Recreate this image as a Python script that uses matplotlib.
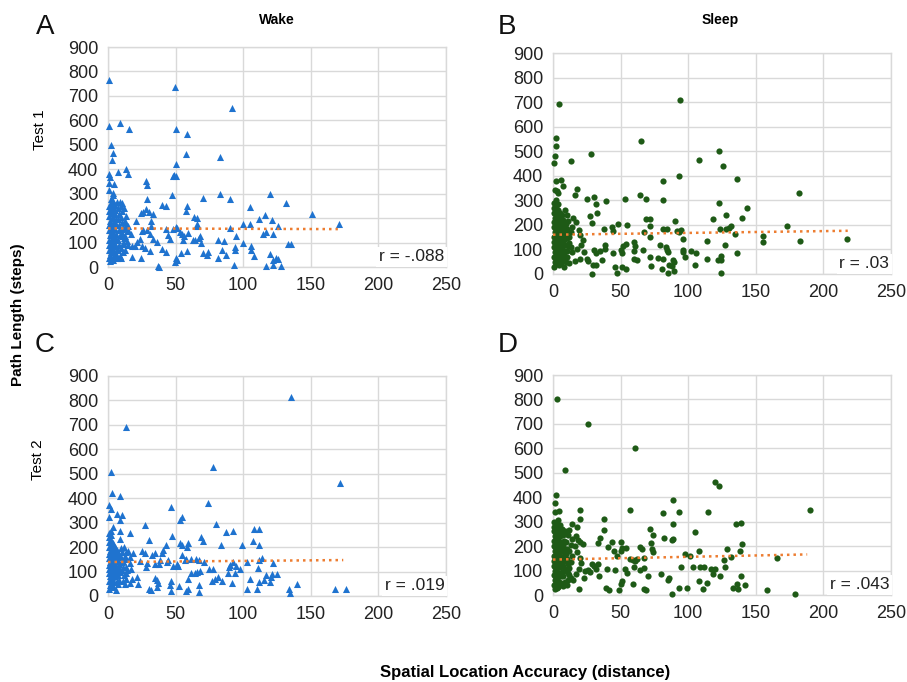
import numpy as np
import matplotlib
matplotlib.use("Agg")
import matplotlib.pyplot as plt

plt.rcParams['font.family'] = ['Liberation Sans', 'DejaVu Sans']

# ---------------- data (x = spatial location accuracy, y = path length) ----------------
wake_test1 = [
    (1, 764), (49.4, 736), (92, 650), (1, 577), (8.6, 589), (15.5, 563), (50, 565), (58.5, 544),
    (2, 498), (4, 466), (2.7, 439), (58, 461), (83, 449), (50, 421), (13, 401), (7.6, 390),
    (14.8, 382), (1, 380), (1.2, 370), (48, 371), (49, 376), (50.5, 371), (4.5, 338), (1, 344),
    (28, 350), (29, 336), (1, 316), (3.7, 303), (47, 293), (83, 297), (120, 297), (70, 282),
    (90, 277), (29, 278), (132, 262), (40, 255), (43, 248), (58.5, 251), (58, 230), (105, 247),
    (8.6, 265), (10.6, 262), (151, 215), (170.5, 177), (116, 211), (112, 196), (121, 192),
    (126, 166), (122, 134), (117, 142), (115, 136), (99.5, 177), (105, 177), (90, 161), (95, 125),
    (99.5, 98), (106, 87), (106, 71), (108, 46), (94, 82), (94, 68), (87.6, 49), (84, 71),
    (86, 106), (81, 112), (81.4, 38), (93.5, 7), (117, 3), (122, 8), (122, 30), (124, 38),
    (126, 33), (127.6, 3), (120, 55), (133, 93), (135.5, 93), (37, 3), (37.7, 0),
    (24.4, 221), (26, 224), (28, 237), (30.5, 224), (33.5, 218), (32, 187), (32, 169), (29, 150),
    (31, 136), (33, 115), (36, 104), (30.8, 64), (25.4, 85), (27.4, 78), (23.4, 115), (21.5, 104),
    (18, 85), (17.5, 40), (24.4, 37), (21, 187), (26, 150), (25, 147), (20, 87), (14.6, 166),
    (14.6, 150), (17, 136), (40, 74), (43, 60), (42.7, 155), (44.7, 131), (46, 115), (50, 164),
    (51, 158), (48, 155), (53, 142), (54.6, 136), (56, 125), (55.5, 112), (54, 57), (50, 37),
    (51, 30), (49.6, 22), (58.5, 65), (59.5, 139), (63.4, 205), (66, 199), (66, 175), (66, 166),
    (68, 128), (67, 120), (69, 98), (64, 109), (70, 57), (73, 50), (74, 60), (63, 112),
    (10.6, 155), (12.6, 160), (10, 125), (11.6, 95), (8.6, 44), (9.6, 37), (7, 38), (5.7, 55),
    (0.5, 250), (0.8, 230), (1, 210), (1.2, 190), (0.6, 170), (1, 150), (1.4, 130), (0.7, 110),
    (1.1, 90), (0.9, 70), (1.3, 50), (0.6, 35), (1.5, 25), (2, 280), (2.2, 260), (2.5, 240),
    (2.1, 220), (2.6, 200), (2.3, 180), (2.8, 160), (2.4, 140), (2.7, 120), (2.2, 100), (2.9, 80),
    (2.5, 60), (2.1, 40), (3.5, 295), (3.8, 270), (3.2, 245), (4, 225), (3.6, 205), (4.2, 185),
    (3.4, 165), (3.9, 145), (4.4, 125), (3.3, 105), (4.1, 85), (3.7, 65), (4.3, 45), (3.5, 30),
    (5, 255), (5.5, 235), (5.2, 215), (6, 195), (5.7, 175), (5.3, 155), (6.2, 135), (5.8, 115),
    (5.1, 95), (6.4, 75), (5.6, 48), (7, 265), (7.5, 240), (8, 215), (7.2, 195), (8.4, 170),
    (7.8, 150), (8.6, 130), (7.3, 110), (8.1, 90), (7.7, 68), (8.8, 40), (9.5, 250), (10, 228),
    (9.8, 205), (10.5, 185), (11, 162), (10.2, 140), (11.5, 118), (10.8, 98), (9.6, 78),
    (11.2, 60), (12, 240), (13, 210), (12.5, 190), (13.5, 170), (14, 148), (12.8, 128),
    (13.8, 105), (14.5, 88), (12.3, 70),
]

sleep_test1 = [
    (4.4, 691), (94, 707), (2, 552), (2.5, 522), (1.5, 482), (1, 453), (13, 459), (28, 487),
    (65, 541), (123, 500), (108, 466), (125.5, 440), (93.4, 398), (81.5, 378), (136, 386),
    (181.6, 331), (2.5, 380), (6, 383), (7.5, 359), (1.5, 344), (3, 339), (4, 328), (17.8, 347),
    (16, 320), (25, 304), (30.6, 314), (31.6, 285), (39, 298), (32.6, 249), (27.7, 237),
    (29, 209), (53, 304), (64, 321), (68.7, 304), (81, 300), (123, 291), (143.8, 268), (128, 239),
    (139.5, 229), (118, 225), (69, 222), (72, 222), (72, 197), (90, 215), (55, 198), (48, 203),
    (43.5, 190), (44.5, 176), (37.5, 182), (84, 182), (91.5, 175), (93, 173), (96, 144),
    (123.5, 182), (128, 182), (130, 187), (132, 194), (134.5, 163), (173.4, 194), (155.6, 155),
    (155, 130), (183, 133), (217.4, 141), (72, 152), (67, 171), (60, 130), (61, 114), (54, 122),
    (52, 114), (50, 98), (51, 84), (44.5, 84), (38.5, 119), (38.5, 100), (34.6, 95), (30, 98),
    (32, 84), (25, 60), (26, 52), (29.6, 38), (31.6, 35), (29, 0), (36.5, 57), (46, 30),
    (47.4, 3), (51.4, 27), (54.3, 19), (60, 92), (60, 62), (62, 57), (66.7, 98), (72, 68),
    (72.6, 33), (77.6, 65), (81, 62), (79, 117), (83.5, 111), (84, 98), (85, 89), (85.5, 35),
    (88, 33), (88.4, 57), (89.4, 50), (80.5, 19), (89.4, 11), (85, 5), (96, 98), (97.4, 68),
    (96, 89), (102, 92), (105.8, 84), (105.3, 35), (114, 60), (114, 133), (122, 57), (124, 73),
    (124.5, 57), (124.3, 3), (127, 117), (136, 87), (95, 179), (81.5, 182),
    (19, 180), (20, 160), (22, 140), (21, 118), (18, 100), (23, 90), (20, 62), (16, 52),
    (17, 210), (15, 230), (14, 190), (13, 170), (12, 150), (11.5, 125), (13, 108), (14, 88),
    (10, 70), (12, 45), (8, 30), (9, 260), (10, 240), (11, 215),
    (0.5, 290), (0.8, 270), (1, 250), (1.2, 230), (0.6, 210), (1, 190), (1.4, 170), (0.7, 150),
    (1.1, 130), (0.9, 110), (1.3, 90), (0.6, 70), (1.5, 50), (0.8, 30), (2, 300), (2.2, 275),
    (2.5, 245), (2.1, 222), (2.6, 200), (2.3, 182), (2.8, 160), (2.4, 140), (2.7, 120),
    (2.2, 100), (2.9, 80), (2.5, 60), (2.1, 40), (3.5, 285), (3.8, 262), (3.2, 238), (4, 218),
    (3.6, 198), (4.2, 178), (3.4, 158), (3.9, 138), (4.4, 118), (3.3, 98), (4.1, 78), (3.7, 58),
    (4.3, 38), (5, 250), (5.5, 228), (5.2, 208), (6, 188), (5.7, 168), (5.3, 148), (6.2, 128),
    (5.8, 108), (5.1, 88), (6.4, 68), (5.6, 45), (7, 240), (7.5, 220), (8, 200), (7.2, 178),
    (8.4, 158), (7.8, 138), (8.6, 118), (7.3, 98), (8.1, 78), (7.7, 55), (9.5, 205), (10, 185),
    (9.8, 165), (10.5, 145), (11, 112), (10.2, 95), (9.6, 50),
]

wake_test2 = [
    (135, 815), (13.3, 693), (2, 506), (78, 526), (171.5, 464), (3.2, 423), (8.6, 409),
    (74, 379), (46.6, 365), (0.7, 371), (2.2, 357), (0.7, 325), (6.7, 335), (10, 330),
    (54.5, 325), (53.5, 311), (8.6, 311), (27, 292), (79.7, 295), (108, 273), (112, 274),
    (87.6, 263), (92.5, 265), (1, 256), (2, 267), (3.7, 284), (9, 267), (9, 235), (16, 256),
    (47.6, 245), (69, 243), (70, 226), (107, 226), (30, 229), (99, 207), (112, 210),
    (83.6, 207), (53.6, 218), (55, 207), (59.5, 218), (58.5, 202), (43, 207), (41, 188),
    (40, 175), (35, 175), (32.8, 169), (25.4, 183), (27.4, 177), (18.5, 175), (16.5, 158),
    (55, 166), (56.6, 147), (57.5, 153), (61.5, 150), (65, 150), (67, 147), (70.8, 139),
    (51, 131), (52, 123), (48, 123), (44.7, 147), (43.7, 139), (38.7, 147), (38, 131), (35, 131),
    (28, 120), (29, 134), (35, 74), (36, 65), (37, 52), (36, 38), (30, 27), (32, 25),
    (46.6, 60), (45.6, 46), (46.6, 19), (52.5, 41), (58, 22), (59.5, 27), (59, 71), (61.5, 93),
    (64, 93), (65.5, 98), (68, 104), (67, 44), (67, 16), (74.8, 109), (78, 112), (77.2, 63),
    (79, 68), (81.7, 79), (84, 60), (88.6, 93), (91.6, 55), (89.6, 117), (90, 128), (92.5, 139),
    (95, 123), (94, 93), (98, 109), (103, 139), (103, 27), (105, 71), (110.3, 30), (111.8, 57),
    (112, 147), (114, 155), (111, 115), (115.7, 65), (117, 87), (119.7, 57), (120.7, 76),
    (121.7, 134), (121, 90), (125, 90), (134, 30), (134.5, 11), (140, 49), (168, 30), (176, 30),
    (21.5, 79), (22, 49), (16, 55), (17.5, 71), (13.6, 93), (13.6, 71), (12.6, 150), (11, 142),
    (24, 142),
    (0.5, 240), (0.8, 220), (1, 200), (1.2, 185), (0.6, 170), (1, 155), (1.4, 140), (0.7, 125),
    (1.1, 110), (0.9, 95), (1.3, 80), (0.6, 62), (1.5, 45), (0.8, 30), (2, 250), (2.2, 228),
    (2.5, 205), (2.1, 190), (2.6, 176), (2.3, 162), (2.8, 148), (2.4, 132), (2.7, 118),
    (2.2, 102), (2.9, 88), (2.5, 70), (2.1, 52), (2.6, 35), (3.5, 215), (3.8, 195), (3.2, 180),
    (4, 166), (3.6, 152), (4.2, 138), (3.4, 124), (3.9, 108), (4.4, 92), (3.3, 76), (4.1, 58),
    (3.7, 40), (5, 200), (5.5, 185), (5.2, 170), (6, 158), (5.7, 144), (5.3, 128), (6.2, 112),
    (5.8, 96), (5.1, 80), (6.4, 62), (5.6, 25), (7, 190), (7.5, 175), (8, 160), (7.2, 146),
    (8.4, 130), (7.8, 115), (8.6, 100), (7.3, 84), (8.1, 66), (7.7, 48), (9.5, 195), (10, 178),
    (9.8, 160), (10.5, 140), (11, 120), (10.2, 105), (11.5, 85), (10.8, 62), (12, 200),
    (13, 180), (12.5, 165), (13.5, 120), (14, 105), (12.8, 50), (15, 185), (16, 135), (17, 110),
]

sleep_test2 = [
    (3, 802), (26, 701), (61, 601), (9, 510), (120, 461), (123, 445), (190, 346), (2, 409),
    (1.5, 376), (1.5, 338), (4.4, 344), (19.8, 349), (57.3, 348), (89, 389), (93.4, 341),
    (81.5, 337), (115, 338), (37.6, 311), (19.8, 311), (135, 292), (139, 295), (88.5, 289),
    (14, 289), (17.8, 278), (12, 265), (38, 267), (104.7, 256), (71.6, 271), (74, 245), (82, 235),
    (88, 226), (89, 229), (34.6, 235), (33, 213), (18.8, 226), (19.8, 215), (22, 210),
    (50.4, 218), (43.5, 218), (41, 196), (45, 180), (47.4, 161), (50.4, 180), (51.4, 191),
    (54, 191), (64, 196), (66, 188), (72.6, 213), (73, 188), (74, 175), (67, 153), (61, 139),
    (62, 147), (57, 147), (59, 142), (60, 115), (64, 101), (67, 109), (53, 106), (55, 90),
    (45.5, 101), (40, 106), (33, 125), (34, 79), (39, 30), (41.5, 22), (49, 22), (50.4, 46),
    (51, 57), (59, 44), (67, 25), (68.7, 22), (70, 79), (80, 87), (85, 63), (86, 68), (93.4, 30),
    (99.3, 27), (88, 3), (95, 115), (98, 169), (101, 158), (103.3, 115), (108, 180),
    (108.7, 115), (111.6, 115), (108, 57), (111, 25), (113.7, 49), (117, 106), (118, 87),
    (119.6, 106), (123.5, 76), (126.5, 145), (127, 115), (129, 188), (132, 155), (133, 30),
    (136, 44), (137, 25), (138, 180), (139, 79), (140, 207), (141.8, 41), (158, 19),
    (165.5, 153), (179, 5), (19.3, 25), (23, 68), (25.7, 104), (27.7, 95), (23.7, 98), (29, 128),
    (30.6, 120), (32, 106),
    (17, 240), (16, 200), (18, 175), (20, 150), (21, 130), (19, 105), (17, 85), (15, 60),
    (14, 230), (13, 205), (12, 180), (14, 160), (13, 135), (12, 110), (11, 90), (13, 70),
    (10, 40), (9, 260), (11, 245),
    (0.5, 300), (0.8, 280), (1, 260), (1.2, 240), (0.6, 220), (1, 200), (1.4, 180), (0.7, 160),
    (1.1, 140), (0.9, 120), (1.3, 100), (0.6, 80), (1.5, 60), (0.8, 40), (1.2, 25), (2, 290),
    (2.2, 268), (2.5, 248), (2.1, 228), (2.6, 208), (2.3, 188), (2.8, 168), (2.4, 148),
    (2.7, 128), (2.2, 108), (2.9, 88), (2.5, 68), (2.1, 48), (2.6, 30), (3.5, 305), (3.8, 275),
    (3.2, 252), (4, 232), (3.6, 212), (4.2, 192), (3.4, 172), (3.9, 152), (4.4, 132), (3.3, 112),
    (4.1, 92), (3.7, 72), (4.3, 52), (3.5, 32), (5, 285), (5.5, 262), (5.2, 240), (6, 218),
    (5.7, 196), (5.3, 176), (6.2, 156), (5.8, 136), (5.1, 116), (6.4, 96), (5.6, 76), (6, 50),
    (7, 270), (7.5, 245), (8, 222), (7.2, 200), (8.4, 178), (7.8, 158), (8.6, 138), (7.3, 118),
    (8.1, 98), (7.7, 78), (8.8, 55), (7.5, 35), (9.5, 215), (10, 190), (9.8, 168), (10.5, 148),
    (11, 125), (10.2, 105), (11.5, 82), (10.8, 60),
]

# trend lines: (x_start, x_end, y_start, y_end)
trend_wake_test1 = (0, 170, 158, 155)
trend_sleep_test1 = (0, 218, 160, 176)
trend_wake_test2 = (0, 174, 139, 147)
trend_sleep_test2 = (0, 188, 145, 166)

r_labels = ["r = -.088", "r = .03", "r = .019", "r = .043"]
panel_letters = ["A", "B", "C", "D"]
col_titles = ["Wake", "Sleep"]
row_labels = ["Test 1", "Test 2"]
x_ticks = [0, 50, 100, 150, 200, 250]
y_ticks = [0, 100, 200, 300, 400, 500, 600, 700, 800, 900]

# ---------------- figure ----------------
W, H = 907, 682
fig = plt.figure(figsize=(W / 100, H / 100), dpi=100)

blue = "#1F73CF"
green = "#1E5A16"
orange = "#ED7D31"
grid_c = "#D9D9D9"

def px_rect(l, r, t, b):
    return [l / W, 1 - b / H, (r - l) / W, (b - t) / H]

rects = [px_rect(108, 446, 47, 267), px_rect(553, 891, 53, 274),
         px_rect(108, 446, 376, 596), px_rect(553, 891, 375, 595)]
datasets = [wake_test1, sleep_test1, wake_test2, sleep_test2]
trends = [trend_wake_test1, trend_sleep_test1, trend_wake_test2, trend_sleep_test2]
markers = ["^", "o", "^", "o"]
colors = [blue, green, blue, green]
sizes = [26, 20, 26, 20]

for i in range(4):
    ax = fig.add_axes(rects[i])
    d = np.array(datasets[i])
    ax.scatter(d[:, 0], d[:, 1], marker=markers[i], s=sizes[i], color=colors[i],
               linewidths=0, zorder=3, clip_on=False)
    x0, x1, y0, y1 = trends[i]
    ax.plot([x0, x1], [y0, y1], color=orange, linestyle=(0, (1, 1.6)), linewidth=1.8, zorder=4)
    ax.set_xlim(0, 250)
    ax.set_ylim(0, 900)
    ax.set_xticks(x_ticks)
    ax.set_yticks(y_ticks)
    ax.grid(True, color=grid_c, linewidth=1.0, zorder=0)
    ax.set_axisbelow(True)
    for s in ax.spines.values():
        s.set_color(grid_c)
        s.set_linewidth(1.0)
    ax.tick_params(length=0, labelsize=13, colors="#222222", pad=7)
    ax.text(0.995, 0.012, r_labels[i], transform=ax.transAxes, ha="right", va="bottom",
            fontsize=12.5, color="#222222", zorder=6,
            bbox=dict(boxstyle="square,pad=0.15", facecolor="white", edgecolor="none"))

# panel letters
for lab, (x, y) in zip(panel_letters, [(45, 27), (507, 27), (45, 345), (508, 345)]):
    fig.text(x / W, 1 - y / H, lab, fontsize=20, ha="center", va="center", color="#111111")

fig.text(277 / W, 1 - 20 / H, col_titles[0], fontsize=10, fontweight="bold", ha="center", va="center")
fig.text(720 / W, 1 - 20 / H, col_titles[1], fontsize=10, fontweight="bold", ha="center", va="center")
fig.text(40 / W, 1 - 130 / H, row_labels[0], fontsize=11, rotation=90, ha="center", va="center")
fig.text(38 / W, 1 - 460 / H, row_labels[1], fontsize=11, rotation=90, ha="center", va="center")
fig.text(18 / W, 1 - 315 / H, "Path Length (steps)", fontsize=11, fontweight="bold",
         rotation=90, ha="center", va="center")
fig.text(525 / W, 1 - 672 / H, "Spatial Location Accuracy (distance)", fontsize=12,
         fontweight="bold", ha="center", va="center")

fig.savefig("out.png", dpi=100)
